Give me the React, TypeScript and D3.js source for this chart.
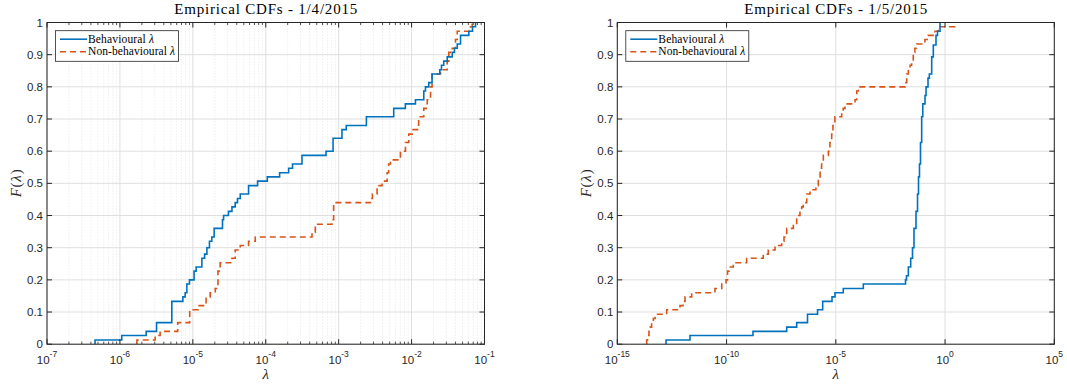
import React from 'react';
import * as d3 from 'd3';

type Pt = [number, number];

// Empirical CDF step points [lambda, F(lambda)] — 1/4/2015
const behav0104: Pt[] = [
  [4.56e-7, 0.013], [1.06e-6, 0.027], [2.29e-6, 0.04], [3.18e-6, 0.067], [5.15e-6, 0.133],
  [7.3e-6, 0.147], [7.85e-6, 0.16], [8.28e-6, 0.187], [8.99e-6, 0.2], [1.04e-5, 0.227],
  [1.11e-5, 0.24], [1.33e-5, 0.267], [1.45e-5, 0.28], [1.56e-5, 0.3], [1.69e-5, 0.32],
  [1.82e-5, 0.333], [1.96e-5, 0.36], [2.55e-5, 0.387], [2.64e-5, 0.4], [3.08e-5, 0.413],
  [3.44e-5, 0.427], [3.81e-5, 0.44], [4.1e-5, 0.453], [4.47e-5, 0.467], [5.81e-5, 0.493],
  [7.73e-5, 0.507], [1.05e-4, 0.52], [1.55e-4, 0.533], [2.06e-4, 0.547], [2.33e-4, 0.56],
  [3.14e-4, 0.587], [6.71e-4, 0.6], [8.38e-4, 0.64], [1.11e-3, 0.667], [1.27e-3, 0.68],
  [2.4e-3, 0.707], [5.69e-3, 0.733], [8.22e-3, 0.747], [1.13e-2, 0.76], [1.47e-2, 0.787],
  [1.55e-2, 0.8], [1.72e-2, 0.813], [1.91e-2, 0.84], [2.44e-2, 0.853], [2.57e-2, 0.867],
  [2.76e-2, 0.88], [3.08e-2, 0.893], [3.61e-2, 0.907], [3.87e-2, 0.92], [4.23e-2, 0.933],
  [4.69e-2, 0.96], [6.1e-2, 0.973], [6.85e-2, 0.987], [7.53e-2, 1.0],
];

const nonBehav0104: Pt[] = [
  [1.71e-6, 0.013], [3.04e-6, 0.027], [3.56e-6, 0.04], [6.2e-6, 0.067], [9.06e-6, 0.107],
  [1.18e-5, 0.12], [1.52e-5, 0.147], [1.73e-5, 0.16], [2.03e-5, 0.173], [2.21e-5, 0.227],
  [2.37e-5, 0.253], [3.44e-5, 0.267], [3.81e-5, 0.293], [4.47e-5, 0.307], [5.81e-5, 0.32],
  [7.18e-5, 0.333], [4.31e-4, 0.347], [4.78e-4, 0.373], [8.11e-4, 0.387], [8.53e-4, 0.44],
  [2.72e-3, 0.453], [2.9e-3, 0.467], [3.36e-3, 0.493], [3.94e-3, 0.507], [4.62e-3, 0.533],
  [4.85e-3, 0.56], [5.13e-3, 0.573], [7.03e-3, 0.6], [8.24e-3, 0.627], [9.15e-3, 0.653],
  [1.02e-2, 0.667], [1.25e-2, 0.707], [1.47e-2, 0.733], [1.64e-2, 0.76], [1.82e-2, 0.8],
  [1.91e-2, 0.84], [2.49e-2, 0.853], [3.08e-2, 0.88], [3.24e-2, 0.907], [3.61e-2, 0.92],
  [4.0e-2, 0.947], [4.23e-2, 0.973], [6.43e-2, 0.987], [6.78e-2, 1.0],
];

// Empirical CDF step points — 1/5/2015
const behav0105: Pt[] = [
  [1.7e-13, 0.013], [2.12e-12, 0.027], [1.62e-9, 0.04], [5.66e-8, 0.053], [1.62e-7, 0.067],
  [5.07e-7, 0.093], [1.46e-6, 0.107], [2.51e-6, 0.133], [6.7e-6, 0.147], [9.2e-6, 0.16],
  [2.2e-5, 0.173], [1.82e-4, 0.187], [1.55e-2, 0.2], [1.72e-2, 0.213], [2.09e-2, 0.24],
  [2.68e-2, 0.267], [3.24e-2, 0.3], [3.79e-2, 0.36], [4.68e-2, 0.413], [5.5e-2, 0.467],
  [6.1e-2, 0.52], [6.76e-2, 0.56], [7.52e-2, 0.627], [8.51e-2, 0.707], [9.55e-2, 0.747],
  [1.21e-1, 0.773], [1.35e-1, 0.8], [1.66e-1, 0.827], [1.91e-1, 0.84], [2.45e-1, 0.893],
  [2.9e-1, 0.93], [3.85e-1, 0.96], [4.52e-1, 0.973], [5.89e-1, 1.0],
];

const nonBehav0105: Pt[] = [
  [2.21e-14, 0.013], [2.41e-14, 0.027], [2.82e-14, 0.04], [3.16e-14, 0.053], [3.72e-14, 0.067],
  [4.47e-14, 0.08], [5.37e-14, 0.093], [1.82e-13, 0.107], [7.41e-13, 0.12], [1.02e-12, 0.133],
  [1.26e-12, 0.147], [2.54e-12, 0.16], [2.95e-11, 0.173], [6.03e-11, 0.187], [9.44e-11, 0.2],
  [1.11e-10, 0.227], [1.29e-10, 0.24], [2.04e-10, 0.253], [8.32e-10, 0.267], [4.79e-9, 0.28],
  [8.13e-9, 0.293], [1.66e-8, 0.307], [3.34e-8, 0.32], [4.27e-8, 0.333], [5.66e-8, 0.36],
  [1.14e-7, 0.373], [1.62e-7, 0.4], [2.29e-7, 0.413], [2.75e-7, 0.427], [3.24e-7, 0.44],
  [4.68e-7, 0.467], [6.61e-7, 0.48], [1.23e-6, 0.493], [1.58e-6, 0.52], [1.91e-6, 0.547],
  [2.24e-6, 0.56], [2.69e-6, 0.587], [4.57e-6, 0.6], [5.37e-6, 0.627], [6.46e-6, 0.653],
  [7.41e-6, 0.68], [9.12e-6, 0.707], [1.86e-5, 0.72], [2.19e-5, 0.733], [2.63e-5, 0.747],
  [7.59e-5, 0.76], [9.12e-5, 0.787], [1.07e-4, 0.8], [1.48e-2, 0.813], [1.76e-2, 0.84],
  [2.09e-2, 0.853], [2.51e-2, 0.867], [2.95e-2, 0.88], [3.51e-2, 0.907], [4.17e-2, 0.92],
  [5.01e-2, 0.933], [1.2e-1, 0.947], [1.7e-1, 0.96], [3.47e-1, 0.973], [4.9e-1, 0.987],
  [2.85, 1.0],
];

const yTicks = [0, 0.1, 0.2, 0.3, 0.4, 0.5, 0.6, 0.7, 0.8, 0.9, 1];
const yTickLabels = ['0', '0.1', '0.2', '0.3', '0.4', '0.5', '0.6', '0.7', '0.8', '0.9', '1'];
const leftExps = [-7, -6, -5, -4, -3, -2, -1];
const rightExps = [-15, -10, -5, 0, 5];
const titles = ['Empirical CDFs - 1/4/2015', 'Empirical CDFs - 1/5/2015'];
const legendNames = ['Behavioural', 'Non-behavioural'];

const BLUE = '#0072BD';
const RED = '#D95319';
const AXIS = '#262626';
const GRID = '#dfdfdf';
const SANS = "'Liberation Sans', Arial, Helvetica, sans-serif";
const SERIF = "'Liberation Serif', 'Times New Roman', serif";

interface PanelProps {
  x0: number; x1: number; y0: number; y1: number;
  exps: number[]; minor: boolean; title: string;
  behav: Pt[]; nonBehav: Pt[];
}

function Panel({ x0, x1, y0, y1, exps, minor, title, behav, nonBehav }: PanelProps) {
  const xs = d3.scaleLog().domain([Math.pow(10, exps[0]), Math.pow(10, exps[exps.length - 1])]).range([x0, x1]);
  const ys = d3.scaleLinear().domain([0, 1]).range([y1, y0]);
  const line = d3.line<Pt>().x(d => xs(d[0])).y(d => ys(d[1])).curve(d3.curveStepAfter);
  const withStart = (s: Pt[]): Pt[] => [[s[0][0], 0], ...s];
  const minors: number[] = [];
  if (minor) {
    for (let i = 0; i < exps.length - 1; i++) {
      for (let k = 2; k <= 9; k++) minors.push(k * Math.pow(10, exps[i]));
    }
  }
  const majors = exps.map(e => Math.pow(10, e));
  const cx = (x0 + x1) / 2;
  const cy = (y0 + y1) / 2;
  const lx = x0 + 8.5;
  const ly = y0 + 8.2;
  return (
    <g>
      {minors.map((v, i) => (
        <line key={'mg' + i} x1={xs(v)} x2={xs(v)} y1={y0} y2={y1} stroke={GRID} strokeWidth={0.8} strokeDasharray="1,2" />
      ))}
      {majors.map((v, i) => (
        <line key={'Mg' + i} x1={xs(v)} x2={xs(v)} y1={y0} y2={y1} stroke={GRID} strokeWidth={1} />
      ))}
      {yTicks.map((v, i) => (
        <line key={'yg' + i} x1={x0} x2={x1} y1={ys(v)} y2={ys(v)} stroke={GRID} strokeWidth={1} />
      ))}
      <path d={line(withStart(nonBehav)) || ''} fill="none" stroke={RED} strokeWidth={1.6} strokeDasharray="6,4" />
      <path d={line(withStart(behav)) || ''} fill="none" stroke={BLUE} strokeWidth={1.6} />
      <rect x={x0} y={y0} width={x1 - x0} height={y1 - y0} fill="none" stroke={AXIS} strokeWidth={1} />
      {minors.map((v, i) => (
        <g key={'mt' + i}>
          <line x1={xs(v)} x2={xs(v)} y1={y1} y2={y1 - 2.5} stroke={AXIS} strokeWidth={0.8} />
          <line x1={xs(v)} x2={xs(v)} y1={y0} y2={y0 + 2.5} stroke={AXIS} strokeWidth={0.8} />
        </g>
      ))}
      {majors.map((v, i) => (
        <g key={'Mt' + i}>
          <line x1={xs(v)} x2={xs(v)} y1={y1} y2={y1 - 5} stroke={AXIS} strokeWidth={1} />
          <line x1={xs(v)} x2={xs(v)} y1={y0} y2={y0 + 5} stroke={AXIS} strokeWidth={1} />
          <text x={xs(v)} y={y1 + 20} textAnchor="middle" fontFamily={SANS} fontSize={11.5} fill={AXIS}>
            10<tspan dy={-7.5} fontSize={8.5}>{String(exps[i])}</tspan>
          </text>
        </g>
      ))}
      {yTicks.map((v, i) => (
        <g key={'yt' + i}>
          <line x1={x0} x2={x0 + 5} y1={ys(v)} y2={ys(v)} stroke={AXIS} strokeWidth={1} />
          <line x1={x1} x2={x1 - 5} y1={ys(v)} y2={ys(v)} stroke={AXIS} strokeWidth={1} />
          <text x={x0 - 4} y={ys(v) + 4} textAnchor="end" fontFamily={SANS} fontSize={11.5} fill={AXIS}>
            {yTickLabels[i]}
          </text>
        </g>
      ))}
      <text x={cx} y={13.5} textAnchor="middle" fontFamily={SERIF} fontSize={15} textLength={183} lengthAdjust="spacing" fill="#000">{title}</text>
      <text x={cx} y={379} textAnchor="middle" fontFamily={SERIF} fontSize={15} fontStyle="italic" fill={AXIS}>λ</text>
      <text transform={`translate(${x0 - 26},${cy}) rotate(-90)`} textAnchor="middle" fontFamily={SERIF} fontSize={15} textLength={28} lengthAdjust="spacing" fill={AXIS}>
        <tspan fontStyle="italic">F</tspan>(<tspan fontStyle="italic">λ</tspan>)
      </text>
      <rect x={lx} y={ly} width={123} height={30.6} fill="#fff" stroke={AXIS} strokeWidth={0.8} />
      <line x1={lx + 4.5} x2={lx + 31.5} y1={ly + 8.5} y2={ly + 8.5} stroke={BLUE} strokeWidth={1.6} />
      <line x1={lx + 4.5} x2={lx + 31.5} y1={ly + 21} y2={ly + 21} stroke={RED} strokeWidth={1.6} strokeDasharray="6,4" />
      <text x={lx + 32.5} y={ly + 12} fontFamily={SERIF} fontSize={11.5} textLength={66} lengthAdjust="spacing" fill="#000">
        {legendNames[0]} <tspan fontStyle="italic">λ</tspan>
      </text>
      <text x={lx + 32.5} y={ly + 24.5} fontFamily={SERIF} fontSize={11.5} textLength={87} lengthAdjust="spacing" fill="#000">
        {legendNames[1]} <tspan fontStyle="italic">λ</tspan>
      </text>
    </g>
  );
}

export default function App() {
  return (
    <svg width={1067} height={385} style={{ position: 'absolute', left: 0, top: 0, background: '#fff' }}>
      <rect x={0} y={0} width={1067} height={385} fill="#fff" />
      <Panel x0={47} x1={484.5} y0={22.5} y1={344.2} exps={leftExps} minor={true} title={titles[0]}
        behav={behav0104} nonBehav={nonBehav0104} />
      <Panel x0={617.3} x1={1054.3} y0={22.5} y1={344.2} exps={rightExps} minor={false} title={titles[1]}
        behav={behav0105} nonBehav={nonBehav0105} />
    </svg>
  );
}
